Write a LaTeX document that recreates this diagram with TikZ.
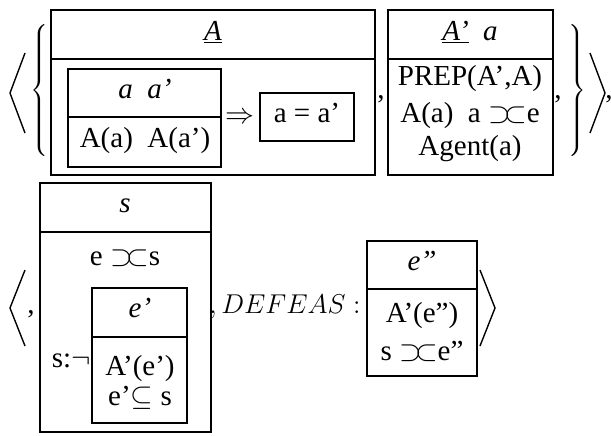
\documentclass[tikz,border=0pt]{standalone}
\usepackage{fix-cm}
\usepackage{fontspec}
\setmainfont{Liberation Serif}
\newcommand{\abutsym}{\mathrel{\supset\mkern-4mu\subset}}
\begin{document}
\begin{tikzpicture}[x=0.5pt,y=-0.5pt,
  box/.style={draw, line width=1.2pt},
  txt/.style={inner sep=0pt, font=\fontsize{14.5}{17}\selectfont, text height=0.7em, text depth=0.2em},
  txtb/.style={inner sep=0pt, font=\fontsize{14.5}{17}\selectfont},
  brace/.style={inner sep=0pt},
  ang/.style={line width=0.7pt}]
\useasboundingbox (0,0) rectangle (611,435);
% ---------- top row ----------
\draw[ang] (25,53) -- (10,93) -- (25,133);
\node[brace] (lbrace) at (41,93) {$\left\{\rule[-33pt]{0pt}{68pt}\right.$};
% box A
\draw[box] (51,10) rectangle (375,175);
\draw[box] (51,59) -- (375,59);
\node[txt] (tA) at (213,35) {\underline{\textit{A}}};
\draw[box] (68,69) rectangle (221,167);
\draw[box] (68,117) -- (221,117);
\node[txt] (taa) at (145,93) {\textit{a\ \ a'}};
\node[txt] (tAa) at (145,142) {A(a)\ \ A(a')};
\node[txt] (imp) at (240,118) {$\Rightarrow$};
\draw[box] (260,93) rectangle (354,141);
\node[txt] (teq) at (307,117) {a = a'};
\node[txtb, anchor=base] (c1) at (381,98) {,};
% box A'
\draw[box] (388,10) rectangle (553,175);
\draw[box] (388,59) -- (553,59);
\node[txt] (tAp) at (470,35) {\underline{\textit{A'}}\ \ \textit{a}};
\node[txt] (tprep) at (470,80) {PREP(A',A)};
\node[txt] (tab) at (470,117) {A(a)\ \ a $\abutsym$e};
\node[txt] (tag) at (470,150) {Agent(a)};
\node[txtb, anchor=base] (c2) at (558,98) {,};
\node[brace] (rbrace) at (576,93) {$\left.\rule[-33pt]{0pt}{68pt}\right\}$};
\draw[ang] (590,53) -- (605,93) -- (590,133);
\node[txtb, anchor=base] (c3) at (609,98) {,};
% ---------- bottom row ----------
\draw[ang] (25,270) -- (10,308) -- (25,346);
\node[txtb, anchor=base] (c4) at (31,313) {,};
% box s
\draw[box] (40,183) rectangle (211,432);
\draw[box] (40,232) -- (211,232);
\node[txt] (ts) at (125,207) {\textit{s}};
\node[txt] (tes) at (125,260) {e $\abutsym$s};
\draw[box] (92,288) rectangle (187,423);
\draw[box] (92,337) -- (187,337);
\node[txt] (tep) at (140,312) {\textit{e'}};
\node[txt] (tApe) at (140,370) {A'(e')};
\node[txt] (tsub) at (140,400) {e'$\subseteq$ s};
\node[txtb, anchor=base east] (tneg) at (91,367) {s:$\neg$};
\node[txtb, anchor=base west, font=\fontsize{13.6}{16}\selectfont] (tdef) at (209,313) {$,DEFEAS:$};
% box e''
\draw[box] (367,241) rectangle (477,376);
\draw[box] (367,289) -- (477,289);
\node[txt] (tepp) at (422,265) {\textit{e''}};
\node[txt] (tApp) at (422,317) {A'(e'')};
\node[txt] (tsepp) at (422,355) {s $\abutsym$e''};
\draw[ang] (480,270) -- (495,308) -- (480,346);
\end{tikzpicture}
\end{document}
